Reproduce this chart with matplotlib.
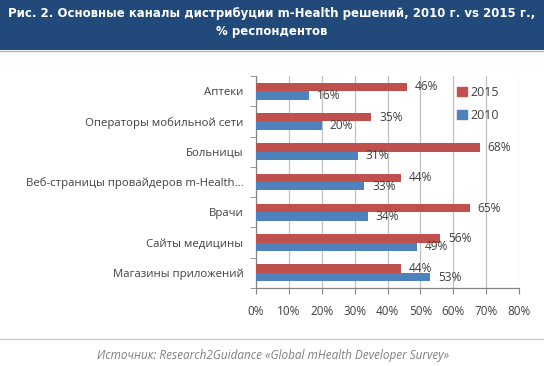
import numpy as np
import matplotlib
matplotlib.use("Agg")
import matplotlib.pyplot as plt
from matplotlib.patches import Rectangle, Patch
from matplotlib.lines import Line2D

W, H = 544, 366

categories = ["Аптеки", "Операторы мобильной сети", "Больницы",
              "Веб-страницы провайдеров m-Health...", "Врачи",
              "Сайты медицины", "Магазины приложений"]
vals_2015 = [46, 35, 68, 44, 65, 56, 44]
vals_2010 = [16, 20, 31, 33, 34, 49, 53]
xticks = [0, 10, 20, 30, 40, 50, 60, 70, 80]

RED = "#c0504d"
BLUE = "#4f81bd"
HEADER = "#21497a"
TXT = "#404040"

plt.rcParams['font.family'] = ['Open Sans', 'DejaVu Sans']

fig = plt.figure(figsize=(W / 100, H / 100), dpi=100)
fig.patch.set_facecolor("white")


def fx(px):
    return px / W


def fy(py):
    return 1 - py / H


# header band
fig.patches.append(Rectangle((0, fy(50)), 1, 50 / H, transform=fig.transFigure,
                             facecolor=HEADER, edgecolor="none", zorder=0))
fig.add_artist(Line2D([0, 1], [fy(50.5), fy(50.5)], color="#b0b0b0", lw=1.0))
fig.text(0.5, fy(13), "Рис. 2. Основные каналы дистрибуции m-Health решений, 2010 г. vs 2015 г.,",
         ha="center", va="center", color="white", fontsize=8.5, fontweight="bold",
         family=["DejaVu Sans"])
fig.text(0.5, fy(31), "% респондентов", ha="center", va="center", color="white",
         fontsize=8.5, fontweight="bold", family=["DejaVu Sans"])

# footer
fig.add_artist(Line2D([0, 1], [fy(339), fy(339)], color="#c8c8c8", lw=1.0))
fig.text(fx(273), fy(356), "Источник: Research2Guidance «Global mHealth Developer Survey»",
         ha="center", va="center", color="#7f7f7f", fontsize=8.5, style="italic")

ax = fig.add_axes([fx(256), fy(288), fx(519) - fx(256), (288 - 76) / H])
y = np.arange(len(categories))
bh = 0.28
ax.barh(y - bh / 2, vals_2015, height=bh, color=RED, label="2015", zorder=3)
ax.barh(y + bh / 2, vals_2010, height=bh, color=BLUE, label="2010", zorder=3)

for i in range(len(categories)):
    ax.text(vals_2015[i] + 2.4, y[i] - bh / 2, f"{vals_2015[i]}%", va="center",
            ha="left", fontsize=8.6, color=TXT, zorder=4)
    ax.text(vals_2010[i] + 2.4, y[i] + bh / 2, f"{vals_2010[i]}%", va="center",
            ha="left", fontsize=8.6, color=TXT, zorder=4)

ax.set_xlim(0, 80)
ax.set_ylim(len(categories) - 0.5, -0.5)
ax.set_xticks(xticks)
ax.set_xticklabels([f"{t}%" for t in xticks], fontsize=8.5, color=TXT)
ax.set_yticks(y)
ax.set_yticklabels(categories, fontsize=8.2, color=TXT)
ax.set_yticks(np.arange(len(categories) + 1) - 0.5, minor=True)
ax.tick_params(axis="y", which="major", length=0, pad=9)
ax.tick_params(axis="y", which="minor", length=4, color="#868686", direction="out")
ax.tick_params(axis="x", length=4, color="#868686", direction="out", pad=8)
ax.grid(axis="x", color="#c0c0c0", lw=0.9, zorder=0)
for s in ["top", "right"]:
    ax.spines[s].set_visible(False)
for s in ["left", "bottom"]:
    ax.spines[s].set_color("#868686")
    ax.spines[s].set_linewidth(0.9)

handles = [Patch(color=RED, label="2015"), Patch(color=BLUE, label="2010")]
ax.legend(handles=handles, loc="upper left", bbox_to_anchor=(fx(446), fy(75)),
          bbox_transform=fig.transFigure, frameon=False, fontsize=9,
          handlelength=0.75, handleheight=0.75, handletextpad=0.3, labelspacing=0.75,
          labelcolor=TXT)

fig.savefig("out.png", dpi=100)
